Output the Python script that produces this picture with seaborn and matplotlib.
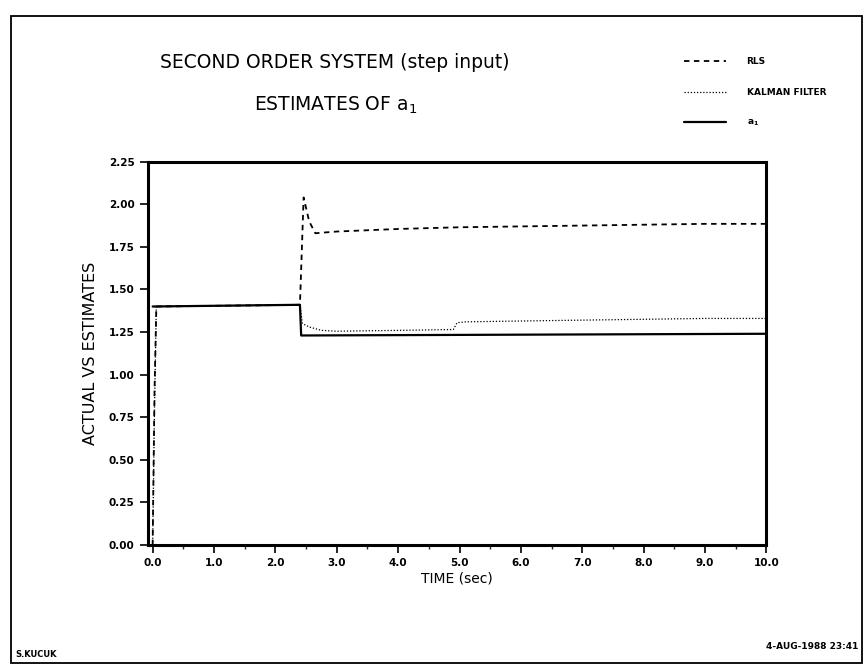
import pandas as pd
import matplotlib
matplotlib.use("Agg")
import matplotlib.pyplot as plt
import seaborn as sns
from matplotlib.patches import Rectangle
from matplotlib.ticker import MultipleLocator

# true parameter a1
t_true = [0.0, 2.40, 2.42, 10.0]
a1_true = [1.40, 1.41, 1.23, 1.24]

# RLS estimate
t_rls = [0.0, 0.03, 0.06, 2.40, 2.46, 2.55, 2.65, 3.0, 4.0, 5.0, 6.0, 7.0, 8.0, 9.0, 10.0]
rls = [0.0, 0.90, 1.40, 1.41, 2.04, 1.90, 1.83, 1.84, 1.855, 1.865, 1.87, 1.875, 1.88, 1.885, 1.885]

# Kalman filter estimate
t_kal = [0.0, 0.03, 0.06, 2.40, 2.44, 2.55, 2.75, 3.0, 4.0, 4.90, 4.96, 5.1, 6.0, 7.0, 8.0, 9.0, 10.0]
kal = [0.0, 0.80, 1.40, 1.41, 1.30, 1.28, 1.26, 1.255, 1.26, 1.265, 1.305, 1.31, 1.315, 1.32, 1.325, 1.33, 1.33]

x_ticks = [0.0, 1.0, 2.0, 3.0, 4.0, 5.0, 6.0, 7.0, 8.0, 9.0, 10.0]
y_ticks = [0.0, 0.25, 0.5, 0.75, 1.0, 1.25, 1.5, 1.75, 2.0, 2.25]

sns.set_style("white")
plt.rcParams['font.family'] = ['DejaVu Sans']
plt.rcParams['text.color'] = 'black'
plt.rcParams['axes.labelcolor'] = 'black'

fig = plt.figure(figsize=(8.64, 6.68), dpi=100)
ax = fig.add_axes([0.171, 0.184, 0.716, 0.574])

df_rls = pd.DataFrame({'t': t_rls, 'v': rls})
df_kal = pd.DataFrame({'t': t_kal, 'v': kal})
df_true = pd.DataFrame({'t': t_true, 'v': a1_true})

sns.lineplot(data=df_rls, x='t', y='v', ax=ax, color='black', lw=1.3,
             linestyle=(0, (3, 2.5)), estimator=None, sort=False, label='RLS')
sns.lineplot(data=df_kal, x='t', y='v', ax=ax, color='black', lw=0.9,
             linestyle=(0, (1, 1.5)), estimator=None, sort=False, label='KALMAN FILTER')
sns.lineplot(data=df_true, x='t', y='v', ax=ax, color='black', lw=1.6,
             estimator=None, sort=False, label='$\\mathregular{a_1}$')

ax.set_xlim(-0.08, 10.0)
ax.set_ylim(0.0, 2.25)
ax.set_xticks(x_ticks)
ax.set_xticklabels([f"{v:.1f}" for v in x_ticks])
ax.set_yticks(y_ticks)
ax.set_yticklabels([f"{v:.2f}" for v in y_ticks])
ax.xaxis.set_minor_locator(MultipleLocator(0.5))
ax.tick_params(axis='both', which='major', direction='out', length=6, width=1.2,
               labelsize=7.5, bottom=True, left=True, colors='black')
ax.tick_params(axis='x', which='minor', direction='out', length=3, width=1.0, bottom=True)
for lab in ax.get_xticklabels() + ax.get_yticklabels():
    lab.set_fontweight('bold')
for s in ax.spines.values():
    s.set_linewidth(2.2)
    s.set_color('black')

ax.set_xlabel("TIME (sec)", fontsize=10, labelpad=2)
ax.set_ylabel("ACTUAL VS ESTIMATES", fontsize=11.5, labelpad=8)

fig.text(0.388, 0.907, "SECOND ORDER SYSTEM (step input)", fontsize=13.5,
         ha='center', va='center')
fig.text(0.388, 0.843, "ESTIMATES OF $\\mathregular{a_1}$", fontsize=13.5,
         ha='center', va='center')

leg = ax.legend(loc='upper left', bbox_to_anchor=(0.792, 0.914),
                bbox_transform=fig.transFigure, frameon=False, fontsize=6.5,
                handlelength=4.6, handletextpad=2.3, labelspacing=2.35,
                borderpad=0, borderaxespad=0)
for txt in leg.get_texts():
    txt.set_fontweight('bold')

fig.text(0.018, 0.013, "S.KUCUK", fontsize=6, fontweight='bold', ha='left', va='bottom')
fig.text(0.994, 0.025, "4-AUG-1988 23:41", fontsize=6.5, fontweight='bold',
         ha='right', va='bottom')

# page border
fig.patches.append(Rectangle((11 / 864, 1 - 663 / 668), (862 - 11) / 864, (663 - 16) / 668,
                             transform=fig.transFigure, fill=False, lw=1.3,
                             edgecolor='black'))

fig.savefig("out.png", dpi=100)
